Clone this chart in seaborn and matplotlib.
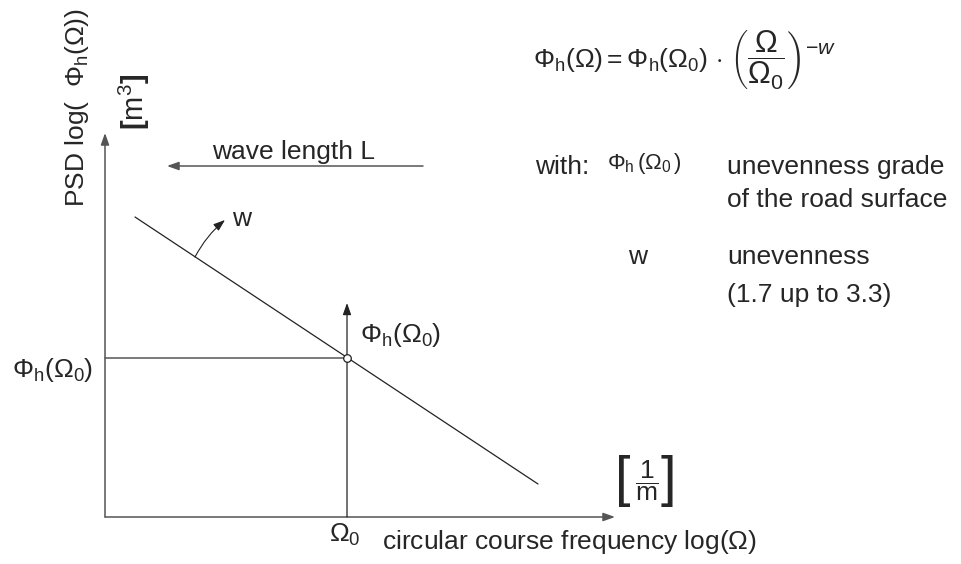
import matplotlib
matplotlib.use("Agg")
import matplotlib.pyplot as plt
import seaborn as sns
import pandas as pd

# Schematic road-unevenness PSD on log-log axes (arbitrary log units,
# origin at the corner where the two axes meet)
omega0 = 242                 # log(Ω0) position on the frequency axis
phi0 = 159                   # log Φh(Ω0) position on the PSD axis
line_logomega = [30, 433]    # ends of the PSD line, log(Ω)
line_logphi = [300, 33]      # ends of the PSD line, log Φh
x_axis_len = 510
y_axis_len = 384
omega0_marker_top = 214
wavelength_x = [318, 62]
wavelength_y = 351
w_arrow_x = [90, 120]
w_arrow_y = [260, 297]

sns.set_theme(style="white")
plt.rcParams["font.family"] = ["Liberation Sans", "DejaVu Sans"]
plt.rcParams["mathtext.fontset"] = "custom"
plt.rcParams["mathtext.rm"] = "Liberation Sans"
plt.rcParams["mathtext.it"] = "Liberation Sans:italic"
plt.rcParams["mathtext.bf"] = "Liberation Sans:bold"

fig = plt.figure(figsize=(9.61, 5.64), dpi=100)
ax = fig.add_axes([0, 0, 1, 1])
ax.set_xlim(-105, 856)
ax.set_ylim(-47, 517)
ax.axis("off")

axis_col = "#555555"
ink = "#222222"
head = "-|>,head_length=0.7,head_width=0.25"


def arrow(x0, y0, x1, y1, color=axis_col, lw=1.1, rad=0.0):
    ax.annotate("", xy=(x1, y1), xytext=(x0, y0),
                arrowprops=dict(arrowstyle=head, color=color, lw=lw,
                                mutation_scale=10, shrinkA=0, shrinkB=0,
                                connectionstyle=f"arc3,rad={rad}"))


# coordinate axes
arrow(0, 0, x_axis_len, 0)
arrow(0, 0, 0, y_axis_len)

# reference lines through (Ω0, Φh(Ω0))
ax.plot([0, omega0], [phi0, phi0], color=axis_col, lw=1.1)
arrow(omega0, 0, omega0, omega0_marker_top, color=ink, lw=0.9)

# PSD line
psd = pd.DataFrame({"log_omega": line_logomega, "log_phi": line_logphi})
sns.lineplot(data=psd, x="log_omega", y="log_phi", ax=ax, color=ink, lw=0.9)

# reference point
ref = pd.DataFrame({"log_omega": [omega0], "log_phi": [phi0]})
sns.scatterplot(data=ref, x="log_omega", y="log_phi", ax=ax, s=30,
                facecolor="white", edgecolor=ink, linewidth=0.9, zorder=5)

# wave length arrow and slope arrow
arrow(wavelength_x[0], wavelength_y, wavelength_x[1], wavelength_y)
arrow(w_arrow_x[0], w_arrow_y[0], w_arrow_x[1], w_arrow_y[1], color=ink,
      lw=0.8, rad=-0.1)

fs = 19
phi_h0 = r"$\Phi_\mathrm{h}(\Omega_0)$"

# axis labels and units
ax.text(-28, 409, r"PSD log(  $\Phi_\mathrm{h}(\Omega)$)", rotation=90,
        ha="center", va="center", fontsize=fs)
ax.text(29, 415, r"$\mathbf{[}\mathrm{m}^3\mathbf{]}$", rotation=90,
        ha="center", va="center", fontsize=21)
ax.text(277, -25, r"circular course frequency log($\Omega$)",
        ha="left", va="center", fontsize=fs)
ax.text(240, -18, r"$\Omega_0$", ha="center", va="center", fontsize=fs)

ax.text(518, 36, "[", ha="center", va="center", fontsize=40)
ax.text(542, 36, r"$\dfrac{1}{\mathrm{m}}$", ha="center", va="center",
        fontsize=fs)
ax.text(563, 36, "]", ha="center", va="center", fontsize=40)

# annotations inside the diagram
ax.text(189, 365, "wave length L", ha="center", va="center", fontsize=fs)
ax.text(137, 298, "w", ha="center", va="center", fontsize=fs)
ax.text(-93, 147, phi_h0, ha="left", va="center", fontsize=fs)
ax.text(255, 182, phi_h0, ha="left", va="center", fontsize=fs)

# PSD model formula
ax.text(428, 457,
        r"$\Phi_\mathrm{h}(\Omega) = \Phi_\mathrm{h}(\Omega_0)\,\cdot$",
        ha="left", va="center", fontsize=fs)
ax.text(625, 457, r"$\left(\dfrac{\Omega}{\Omega_0}\right)^{-w}$",
        ha="left", va="center", fontsize=22)

# legend of the symbols
ax.text(430, 350, "with:", ha="left", va="center", fontsize=fs)
ax.text(502, 354, r"$\Phi_\mathrm{h}\,(\Omega_0\,)$", ha="left",
        va="center", fontsize=16)
ax.text(622, 350, "unevenness grade", ha="left", va="center", fontsize=fs)
ax.text(622, 317, "of the road surface", ha="left", va="center", fontsize=fs)
ax.text(523, 260, "w", ha="left", va="center", fontsize=fs)
ax.text(622, 260, "unevenness", ha="left", va="center", fontsize=fs)
ax.text(622, 222, "(1.7 up to 3.3)", ha="left", va="center", fontsize=fs)

fig.savefig("out.png", dpi=100)
